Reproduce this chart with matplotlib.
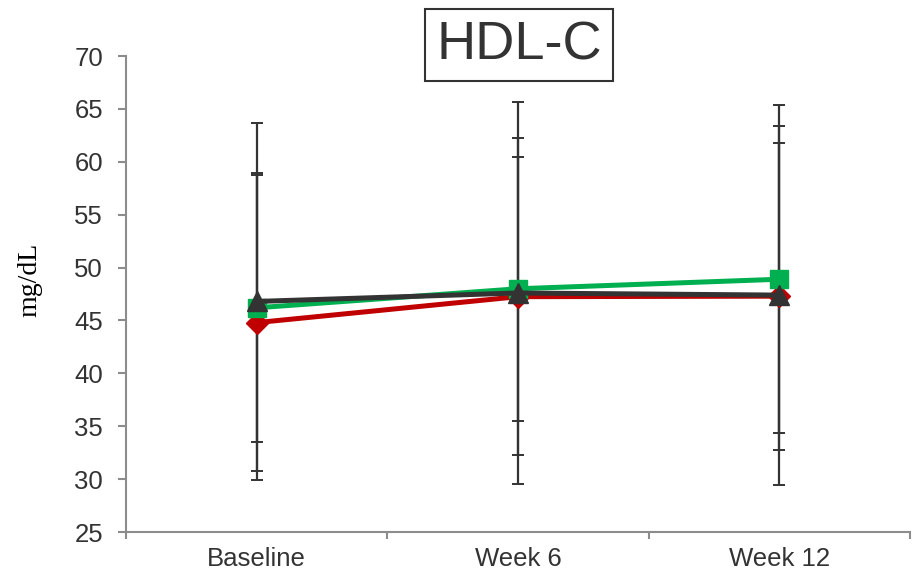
import numpy as np
import matplotlib.pyplot as plt

plt.rcParams['font.family'] = ['Liberation Sans', 'DejaVu Sans']

# Données
visits = ['Baseline', 'Week 6', 'Week 12']
red_mean = [44.8, 47.25, 47.3]
red_sd = [14.0, 15.0, 14.5]
green_mean = [46.2, 48.0, 48.9]
green_sd = [12.7, 12.5, 14.5]
black_mean = [46.8, 47.6, 47.4]
black_sd = [16.9, 18.1, 18.0]
y_ticks = [25, 30, 35, 40, 45, 50, 55, 60, 65, 70]

x = np.arange(len(visits))

fig = plt.figure(figsize=(9.22, 5.84), dpi=100)
ax = fig.add_axes([0.1367, 0.089, 0.8503, 0.815])

# Barres d'erreur derrière les courbes
for mean, sd in [(red_mean, red_sd), (green_mean, green_sd), (black_mean, black_sd)]:
    ax.errorbar(x, mean, yerr=sd, fmt='none', ecolor='#333333', elinewidth=1.6,
                capsize=4, capthick=1.4, zorder=2)

# Courbes
ax.plot(x, red_mean, color='#C00000', lw=3.6, marker='D', ms=11, zorder=3)
ax.plot(x, green_mean, color='#00B050', lw=3.6, marker='s', ms=13, zorder=4)
ax.plot(x, black_mean, color='#333333', lw=3.6, marker='^', ms=14, zorder=5)

ax.set_xlim(-0.5, 2.5)
ax.set_ylim(25, 70)
ax.set_yticks(y_ticks)
ax.set_xticks(x)
ax.set_xticklabels(visits)
ax.set_xticks([-0.5, 0.5, 1.5, 2.5], minor=True)
ax.tick_params(axis='x', which='major', length=0, pad=11, labelsize=18.5, labelcolor='#333333')
ax.tick_params(axis='x', which='minor', length=5, width=1.5, color='#8c8c8c', direction='out')
ax.tick_params(axis='y', length=5.5, width=1.5, color='#8c8c8c', labelsize=18.5,
               labelcolor='#333333', pad=11)

for side in ['top', 'right']:
    ax.spines[side].set_visible(False)
for side in ['left', 'bottom']:
    ax.spines[side].set_color('#8c8c8c')
    ax.spines[side].set_linewidth(1.5)

ax.set_ylabel('mg/dL', fontsize=20, family=['Liberation Serif'])
ax.yaxis.set_label_coords(-0.107, 0.53)

# Titre encadré
fig.text(519 / 922, 1 - 45 / 584, 'HDL-C', fontsize=39, color='#333333',
         ha='center', va='center',
         bbox=dict(boxstyle='square,pad=0.2', fc='white', ec='#333333', lw=1.5))

fig.savefig('out.png', dpi=100)
